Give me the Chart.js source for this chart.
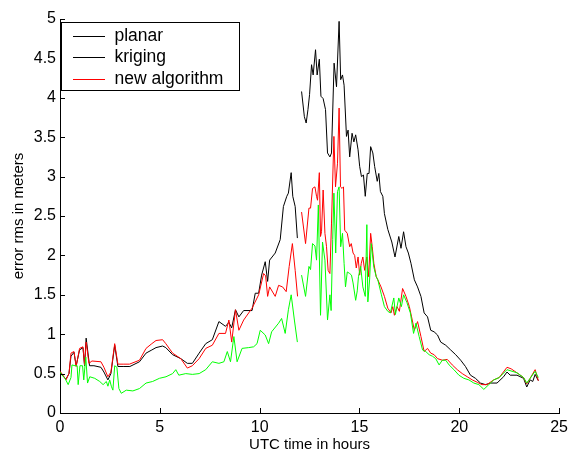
<!DOCTYPE html>
<html>
<head>
<meta charset="utf-8">
<script src="https://cdn.jsdelivr.net/npm/chart.js@4.4.1/dist/chart.umd.min.js"></script>
<style>
  html, body { margin: 0; padding: 0; background: #fff; }
  #wrap { width: 573px; height: 453px; position: relative; }
</style>
</head>
<body>
<div id="wrap"><canvas id="errChart"></canvas></div>
<script>
// values (hours, error rms in meters); null = gap in the record
const planarHours = [0,0.15,0.3,0.45,0.55,0.7,0.81,0.98,1.15,1.23,
  1.31,1.48,1.7,2.05,2.2,2.4,2.55,2.74,2.9,3.2,
  3.5,3.98,4.31,4.6,4.81,5.14,5.3,5.64,6.05,6.38,
  6.63,6.97,7.3,7.63,7.96,8.29,8.46,8.6,8.79,8.96,
  9.2,9.62,9.78,9.95,10.1,10.28,10.4,10.5,10.78,11.03,
  11.19,11.36,11.44,11.58,11.66,11.78,11.89,12.0,12.1,12.24,
  12.33,12.42,12.5,12.6,12.68,12.8,12.88,12.99,13.07,13.18,
  13.3,13.4,13.52,13.6,13.73,13.85,13.98,14.06,14.15,14.23,
  14.35,14.43,14.51,14.63,14.72,14.81,14.93,15.01,15.1,15.2,
  15.29,15.39,15.48,15.56,15.67,15.76,15.89,15.97,16.05,16.17,
  16.25,16.42,16.62,16.78,16.97,17.08,17.21,17.33,17.45,17.58,
  17.75,17.91,18.08,18.24,18.41,18.57,18.74,18.91,19.07,19.32,
  19.57,19.82,20.07,20.31,20.56,20.81,21.06,21.31,21.56,21.89,
  22.22,22.39,22.55,22.89,23.22,23.38,23.55,23.68,23.8,23.96];
const planarErr = [0.52,0.47,0.43,0.5,0.72,0.77,0.6,0.8,0.83,0.6,
  0.95,0.6,0.6,0.58,0.52,0.42,0.5,0.86,0.59,0.59,
  0.59,0.65,0.76,0.8,0.83,0.85,0.83,0.74,0.69,0.63,
  0.63,0.76,0.88,0.93,1.16,1.1,1.15,1.08,1.31,1.22,
  1.3,1.3,1.52,1.52,1.75,1.92,1.67,1.94,2.03,2.2,
  2.62,2.75,2.79,3.05,2.75,2.62,2.22,null,4.08,3.76,
  3.68,3.85,4.04,4.42,4.29,4.61,4.29,4.49,4.02,3.99,
  3.85,3.3,3.25,3.3,4.44,4.14,4.97,4.23,4.29,4.16,
  3.51,3.59,3.25,3.55,3.44,3.53,3.34,3.13,3.0,3.02,
  2.75,3.04,3.04,3.38,3.3,3.13,2.94,3.04,2.81,2.75,
  2.53,2.33,2.17,1.98,2.24,2.09,2.3,2.11,2.03,1.9,
  1.69,1.6,1.48,1.27,1.22,1.05,1.03,0.99,0.9,0.86,
  0.8,0.74,0.67,0.59,0.48,0.44,0.38,0.36,0.38,0.38,
  0.46,0.52,0.48,0.48,0.44,0.33,0.42,0.4,0.49,0.41];

const newAlgHours = [0,0.15,0.3,0.45,0.55,0.7,0.81,0.98,1.15,1.23,
  1.31,1.45,1.6,2.05,2.2,2.4,2.55,2.74,2.9,3.2,
  3.48,3.98,4.31,4.6,4.81,5.14,5.3,5.64,6.05,6.38,
  6.63,6.97,7.3,7.63,7.96,8.29,8.46,8.6,8.79,8.96,
  9.2,9.62,9.95,10.2,10.3,10.4,10.5,10.78,10.95,11.15,
  11.33,11.48,11.64,11.78,11.9,12.0,12.1,12.3,12.47,12.55,
  12.65,12.77,12.85,12.9,12.99,13.05,13.1,13.18,13.27,13.35,
  13.43,13.52,13.6,13.72,13.8,13.9,13.98,14.05,14.13,14.2,
  14.26,14.39,14.51,14.59,14.68,14.76,14.84,14.93,15.01,15.09,
  15.17,15.26,15.37,15.46,15.56,15.64,15.72,15.84,15.92,16.08,
  16.25,16.42,16.58,16.67,16.75,16.88,17.0,17.16,17.33,17.5,
  17.61,17.75,17.91,18.08,18.24,18.41,18.57,18.74,18.91,19.15,
  19.4,19.65,19.9,20.15,20.4,20.65,20.9,21.14,21.39,21.72,
  22.0,22.39,22.6,22.89,23.22,23.38,23.55,23.8,23.96];
const newAlgErr = [0.53,0.48,0.42,0.5,0.76,0.78,0.59,0.82,0.84,0.61,
  0.9,0.63,0.66,0.65,0.58,0.46,0.52,0.88,0.62,0.62,
  0.62,0.67,0.82,0.88,0.92,0.93,0.88,0.76,0.69,0.57,
  0.6,0.69,0.82,0.86,1.01,1.01,1.18,0.9,1.31,1.05,
  1.18,1.33,1.5,1.77,1.74,1.48,1.6,1.48,1.62,1.6,
  1.54,1.86,2.15,1.81,1.48,null,2.55,2.15,2.6,2.6,
  2.85,2.87,2.75,2.7,3.05,2.24,2.3,2.83,2.28,2.11,
  1.81,1.77,2.41,3.51,2.87,3.17,3.87,2.87,2.85,2.87,
  2.32,2.28,2.11,2.15,2.03,2.0,1.84,1.98,1.75,1.9,
  1.98,1.81,1.98,1.73,2.28,2.11,1.9,1.73,1.69,1.6,
  1.48,1.33,1.27,1.35,1.24,1.35,1.29,1.58,1.48,1.35,
  1.22,1.05,1.16,0.97,0.78,0.82,0.76,0.74,0.69,0.67,
  0.68,0.61,0.55,0.5,0.46,0.42,0.39,0.36,0.36,0.42,
  0.45,0.58,0.56,0.51,0.45,0.37,0.44,0.55,0.41];

const greenHours = [0,0.1,0.25,0.41,0.55,0.6,0.75,0.86,0.91,1.0,
  1.13,1.19,1.29,1.38,1.49,1.74,1.99,2.16,2.32,2.4,
  2.49,2.57,2.65,2.74,2.85,2.95,3.07,3.32,3.65,3.98,
  4.31,4.64,4.98,5.31,5.64,5.8,5.95,6.3,6.63,6.97,
  7.3,7.63,7.96,8.21,8.38,8.54,8.71,8.87,9.12,9.45,
  9.7,9.87,10.03,10.28,10.45,10.6,10.95,11.1,11.28,11.44,
  11.58,11.74,11.89,12.0,12.1,12.3,12.47,12.55,12.65,12.77,
  12.85,12.94,13.05,13.15,13.27,13.4,13.52,13.58,13.66,13.72,
  13.81,13.9,13.98,14.06,14.15,14.23,14.3,14.39,14.51,14.6,
  14.68,14.81,14.89,14.95,15.06,15.17,15.29,15.37,15.42,15.51,
  15.59,15.72,15.84,15.92,16.1,16.25,16.42,16.55,16.72,16.8,
  16.97,17.1,17.21,17.38,17.55,17.71,17.83,17.99,18.16,18.32,
  18.49,18.66,18.82,18.99,19.15,19.32,19.49,19.73,19.98,20.23,
  20.48,20.73,20.98,21.23,21.48,21.73,22.0,22.39,22.89,23.22,
  23.38,23.55,23.8,23.96];
const greenErr = [0.52,0.48,0.44,0.36,0.45,0.61,0.6,0.6,0.36,0.6,
  0.6,0.42,0.71,0.38,0.46,0.44,0.4,0.36,0.4,0.34,
  0.42,0.34,0.29,0.6,0.58,0.31,0.25,0.29,0.28,0.31,
  0.38,0.4,0.44,0.46,0.5,0.55,0.48,0.5,0.49,0.5,
  0.55,0.65,0.63,0.65,0.78,0.65,0.97,0.65,0.82,0.83,
  0.84,0.88,1.05,0.99,0.88,1.03,1.14,1.2,1.01,1.31,
  1.5,1.18,0.9,null,1.75,1.48,1.86,1.82,2.15,2.12,
  1.94,2.64,1.24,2.17,1.94,1.18,1.5,1.3,2.2,2.79,
  2.03,2.81,2.87,2.11,2.28,1.9,1.6,1.79,1.77,1.75,
  1.65,1.43,1.55,1.73,1.86,1.6,1.48,2.39,1.41,1.7,
  2.15,1.85,1.73,1.69,1.5,1.35,1.29,1.27,1.46,1.25,
  1.46,1.35,1.5,1.4,1.27,1.01,1.14,0.97,0.8,0.78,
  0.74,0.72,0.69,0.61,0.67,0.67,0.61,0.55,0.48,0.44,
  0.42,0.38,0.36,0.3,0.36,0.42,0.45,0.55,0.51,0.45,
  0.38,0.44,0.53,0.45];

const legendLabels = ['planar', 'kriging', 'new algorithm'];
const legendColors = ['#000000', '#000000', '#ff0000'];

const FONT = "'Liberation Sans', Arial, Helvetica, sans-serif";

const toPoints = (xs, ys) => xs.map((x, i) => ({ x, y: ys[i] }));

// MATLAB-style ticks pointing into the axes
const insideTicks = {
  id: 'insideTicks',
  afterDraw(chart) {
    const { ctx, scales: { x, y } } = chart;
    ctx.save();
    ctx.fillStyle = '#000';
    x.ticks.forEach(t => {
      const px = Math.round(x.getPixelForValue(t.value));
      ctx.fillRect(px, y.bottom - 5, 1, 5);
    });
    y.ticks.forEach(t => {
      const py = Math.round(y.getPixelForValue(t.value));
      ctx.fillRect(x.left, py, 5, 1);
    });
    ctx.restore();
  }
};

// boxed legend in the upper left corner
const boxLegend = {
  id: 'boxLegend',
  afterDraw(chart) {
    const { ctx, chartArea } = chart;
    const left = chartArea.left + 1.5;
    const top = chartArea.top + 3.5;
    const w = 178, h = 68, rowH = 21.5;
    ctx.save();
    ctx.fillStyle = '#fff';
    ctx.fillRect(left, top, w, h);
    ctx.strokeStyle = '#000';
    ctx.lineWidth = 1;
    ctx.strokeRect(left, top, w, h);
    ctx.font = '17.5px ' + FONT;
    ctx.textBaseline = 'middle';
    ctx.textAlign = 'left';
    for (let i = 0; i < legendLabels.length; i++) {
      const cy = Math.round(top + 13 + i * rowH);
      ctx.fillStyle = legendColors[i];
      ctx.fillRect(Math.round(left + 11), cy, 32, 1);
      ctx.fillStyle = '#000';
      ctx.fillText(legendLabels[i], left + 53, cy + 0.5);
    }
    ctx.restore();
  }
};

new Chart(document.getElementById('errChart'), {
  type: 'line',
  data: {
    datasets: [
      { label: 'planar', data: toPoints(planarHours, planarErr), borderColor: '#000000', order: 3 },
      { label: 'new algorithm', data: toPoints(newAlgHours, newAlgErr), borderColor: '#ff0000', order: 2 },
      { label: 'kriging', data: toPoints(greenHours, greenErr), borderColor: '#00ff00', order: 1 }
    ]
  },
  options: {
    responsive: true,
    maintainAspectRatio: false,
    animation: false,
    spanGaps: false,
    elements: {
      line: { borderWidth: 1, tension: 0 },
      point: { radius: 0 }
    },
    layout: { padding: { left: 0, right: 10, top: 19, bottom: 0 } },
    plugins: {
      legend: { display: false },
      tooltip: { enabled: false }
    },
    scales: {
      x: {
        type: 'linear',
        min: 0,
        max: 25,
        ticks: { stepSize: 5, color: '#000', padding: 5, font: { family: FONT, size: 16 },
                 callback: v => String(v) },
        grid: { display: false, drawTicks: false },
        border: { color: '#000', width: 1 },
        title: { display: true, text: 'UTC time in hours', color: '#000', padding: 0,
                 font: { family: FONT, size: 15, lineHeight: 1.1 } },
        afterFit: s => { s.height = 40; }
      },
      y: {
        type: 'linear',
        min: 0,
        max: 5,
        ticks: { stepSize: 0.5, color: '#000', padding: 4, font: { family: FONT, size: 16 },
                 callback: v => String(v) },
        grid: { display: false, drawTicks: false },
        border: { color: '#000', width: 1 },
        title: { display: true, text: 'error rms in meters', color: '#000', padding: { top: 10 },
                 font: { family: FONT, size: 15, lineHeight: 1.2 } },
        afterFit: s => { s.width = 60; }
      }
    }
  },
  plugins: [insideTicks, boxLegend]
});
</script>
</body>
</html>
